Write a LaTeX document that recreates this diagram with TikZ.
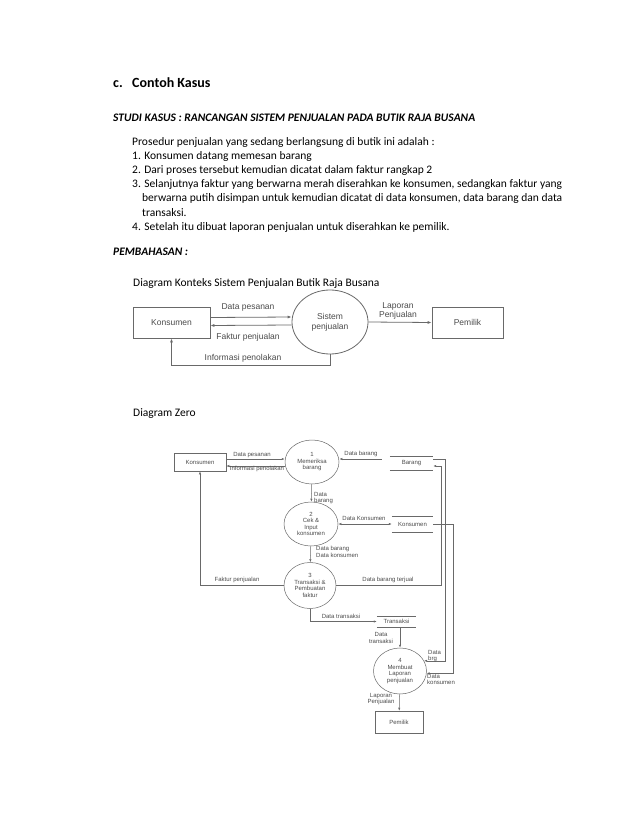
\documentclass[tikz,border=0pt]{standalone}
\usepackage{fontspec}
\setmainfont{Carlito}
\newfontfamily\diagfont{Liberation Sans}
\usetikzlibrary{shapes.geometric, arrows.meta}
\definecolor{LineGray}{RGB}{105,105,105}
\definecolor{TextGray}{RGB}{75,75,75}
\tikzset{
  bodytxt/.style={anchor=base west, inner sep=0pt,
    font=\fontsize{11.5}{14}\selectfont},
  headtxt/.style={bodytxt, font=\fontsize{14}{16}\selectfont\bfseries},
  subtxt/.style={bodytxt, font=\fontsize{11.5}{14}\selectfont\bfseries\itshape},
  ctxbox/.style={rectangle, draw=LineGray, line width=0.8pt, inner sep=0pt,
    minimum width=77pt, minimum height=31pt, text=TextGray,
    font=\diagfont\fontsize{8.5}{10}\selectfont},
  ctxproc/.style={ellipse, draw=LineGray, line width=0.8pt, inner sep=0pt,
    minimum width=76pt, minimum height=64pt, align=center, text=TextGray,
    font=\diagfont\fontsize{8.5}{10}\selectfont},
  ctxlbl/.style={inner sep=0pt, align=center, text=TextGray,
    font=\diagfont\fontsize{8.5}{9.5}\selectfont},
  ctxarrow/.style={-{Latex[length=4pt, width=3pt]}, line width=0.8pt, LineGray},
  zbox/.style={rectangle, draw=LineGray, line width=0.5pt, inner sep=0pt,
    minimum width=52pt, minimum height=18pt, text=TextGray,
    font=\diagfont\fontsize{6}{6.5}\selectfont},
  zproc/.style={ellipse, draw=LineGray, line width=0.5pt, inner sep=0pt,
    minimum width=54pt, minimum height=44pt, align=center, text=TextGray,
    font=\diagfont\fontsize{6}{6.5}\selectfont},
  zstore/.style={rectangle, inner sep=0pt, minimum width=43pt,
    minimum height=14pt, text=TextGray,
    font=\diagfont\fontsize{6}{6.5}\selectfont},
  zlbl/.style={inner sep=0pt, align=left, text=TextGray,
    font=\diagfont\fontsize{6}{6.5}\selectfont},
  zline/.style={line width=0.5pt, LineGray},
  zarrow/.style={-{Latex[length=3pt, width=2.2pt]}, zline},
  zboth/.style={{Latex[length=3pt, width=2.2pt]}-{Latex[length=3pt, width=2.2pt]}, zline}
}
\begin{document}
\begin{tikzpicture}[x=1pt, y=-1pt]
  \useasboundingbox[fill=white] (0,0) rectangle (638,826);

  % Page text
  \node[headtxt] (hdc) at (113,88) {c.};
  \node[headtxt] (hd) at (132,88) {Contoh Kasus};
  \node[subtxt] (studi) at (113,122) {STUDI KASUS : RANCANGAN SISTEM PENJUALAN PADA BUTIK RAJA BUSANA};
  \node[bodytxt] (pros) at (132,146) {Prosedur penjualan yang sedang berlangsung di butik ini adalah :};
  \node[bodytxt] (l1) at (132,160) {1. Konsumen datang memesan barang};
  \node[bodytxt] (l2) at (132,174) {2. Dari proses tersebut kemudian dicatat dalam faktur rangkap 2};
  \node[bodytxt] (l3a) at (132,188) {3. Selanjutnya faktur yang berwarna merah diserahkan ke konsumen, sedangkan faktur yang};
  \node[bodytxt] (l3b) at (142,202) {berwarna putih disimpan untuk kemudian dicatat di data konsumen, data barang dan data};
  \node[bodytxt] (l3c) at (142,216) {transaksi.};
  \node[bodytxt] (l4) at (132,230) {4. Setelah itu dibuat laporan penjualan untuk diserahkan ke pemilik.};
  \node[subtxt] (bahas) at (113,255) {PEMBAHASAN :};
  \node[bodytxt] (kcap) at (133,286) {Diagram Konteks Sistem Penjualan Butik Raja Busana};
  \node[bodytxt] (zcap) at (133,416) {Diagram Zero};

  % Context diagram
  \node[ctxbox] (kon) at (171.5,322.5) {Konsumen};
  \node[ctxproc] (sis) at (330,322) {Sistem\\penjualan};
  \node[ctxbox, minimum width=71pt] (pem) at (467.5,322.5) {Pemilik};

  \draw[ctxarrow] ([yshift=5pt]kon.east) -- ([yshift=5pt]sis.west);
  \draw[ctxarrow] ([yshift=-3pt]sis.west) -- ([yshift=-3pt]kon.east);
  \draw[ctxarrow] (sis.east) -- (pem.west);
  \draw[ctxarrow] (sis.south) -- ++(0,11) -| (kon.south);

  \node[ctxlbl] (lpes) at (248,307) {Data pesanan};
  \node[ctxlbl] (lfak) at (248,337) {Faktur penjualan};
  \node[ctxlbl] (llap) at (398,311) {Laporan\\Penjualan};
  \node[ctxlbl] (ltol) at (243,358) {Informasi penolakan};

  % Diagram zero: entities, processes, stores
  \node[zbox] (kon2) at (200,462) {Konsumen};
  \node[zproc] (p1) at (312,462) {1\\Memeriksa\\barang};
  \node[zstore] (bar) at (411.5,463) {Barang};
  \node[zproc] (p2) at (311,524) {2\\Cek \&\\Input\\konsumen};
  \node[zstore, minimum width=41pt, minimum height=16pt] (kst) at (412.5,524) {Konsumen};
  \node[zproc, minimum width=52pt, minimum height=46pt] (p3) at (310,585.5) {3\\Transaksi \&\\Pembuatan\\faktur};
  \node[zstore, minimum width=39pt, minimum height=11pt] (trs) at (396.5,621.5) {Transaksi};
  \node[zproc, minimum width=53pt, minimum height=46pt] (p4) at (400,671) {4\\Membuat\\Laporan\\penjualan};
  \node[zbox, minimum width=48pt, minimum height=22pt] (pem2) at (399,722) {Pemilik};

  \foreach \s in {bar,kst,trs}
    \draw[zline] (\s.north west) -- (\s.north east) (\s.south west) -- (\s.south east);

  % Diagram zero: flows
  \draw[zarrow] ([yshift=3pt]kon2.east) -- ([yshift=3pt]p1.west);
  \draw[zarrow] ([yshift=-4pt]p1.west) -- ([yshift=-4pt]kon2.east);
  \draw[zarrow] ([xshift=-8pt, yshift=4pt]bar.west) -- ([yshift=3pt]p1.east);
  \draw[zarrow] (p1) -- (p2);
  \draw[zboth] (p2.east) -- (kst.west);
  \draw[zarrow] (p2) -- (p3);
  \draw[zarrow] (p3.west) -| (kon2.south);
  \draw[zarrow] (p3.east) -| ([xshift=8pt, yshift=-3pt]bar.east) -- ([yshift=-3pt]bar.east);
  \draw[zarrow] (p3.south) |- (trs.west);
  \draw[zarrow] (trs.south -| p4.north) -- (p4.north);
  \draw[zarrow] ([yshift=4pt]bar.east) -- ++(12,0) |- (p4.23);
  \draw[zarrow] (kst.east) -- ++(20,0) |- (p4.-5);
  \draw[zarrow] (p4) -- (pem2);

  \node[zlbl] (zpes) at (252,455) {Data pesanan};
  \node[zlbl] (ztol) at (257,469) {Informasi penolakan};
  \node[zlbl] (zbrg) at (361,454) {Data barang};
  \node[zlbl, anchor=west] (zbrg2) at (314,498) {Data\\barang};
  \node[zlbl] (zkon) at (364,518) {Data Konsumen};
  \node[zlbl, anchor=west] (zbk) at (316,552) {Data barang\\Data konsumen};
  \node[zlbl] (zfak) at (237,580) {Faktur penjualan};
  \node[zlbl] (zter) at (388,580) {Data barang terjual};
  \node[zlbl] (ztrs) at (341,616) {Data transaksi};
  \node[zlbl, align=center] (ztrs2) at (381,638) {Data\\transaksi};
  \node[zlbl, anchor=west] (zdb) at (428,656) {Data\\brg};
  \node[zlbl, anchor=north west] (zdk) at (427,674) {Data\\konsumen};
  \node[zlbl, align=center] (zlap) at (381,699) {Laporan\\Penjualan};
\end{tikzpicture}
\end{document}
